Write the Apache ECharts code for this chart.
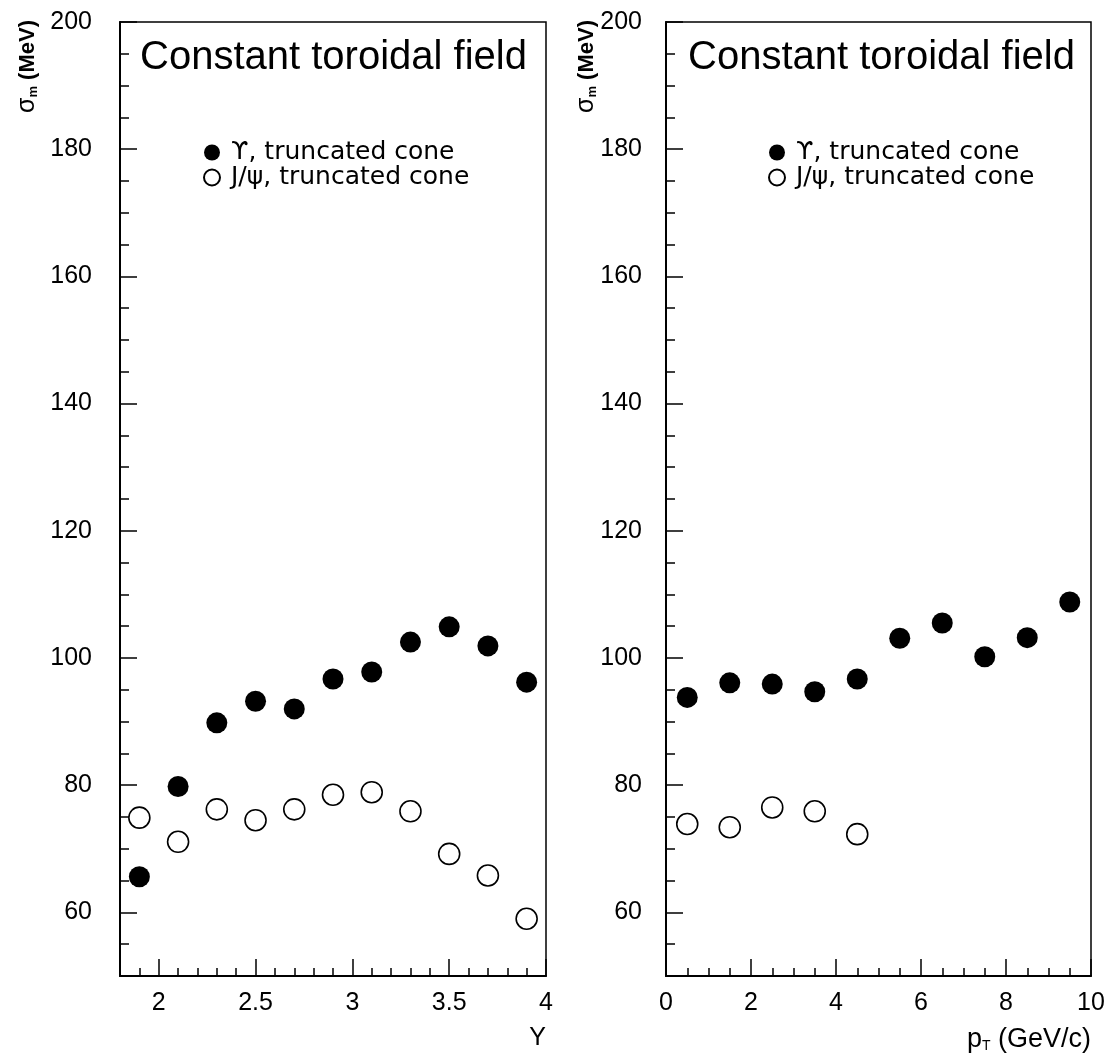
<!DOCTYPE html>
<html>
<head>
<meta charset="utf-8">
<script src="https://cdn.jsdelivr.net/npm/echarts@6/dist/echarts.min.js"></script>
<style>
html,body{margin:0;padding:0;background:#fff;}
#chart{width:1110px;height:1053px;}
</style>
</head>
<body>
<div id="chart"></div>
<script>
// ---- data ----
const rapidity = [1.9, 2.1, 2.3, 2.5, 2.7, 2.9, 3.1, 3.3, 3.5, 3.7, 3.9];
const upsilonVsY = [65.6, 79.8, 89.8, 93.2, 92.0, 96.7, 97.8, 102.5, 104.9, 101.9, 96.2];
const jpsiVsY = [74.9, 71.1, 76.2, 74.5, 76.2, 78.5, 78.9, 75.9, 69.2, 65.8, 59.0];

const ptUpsilon = [0.5, 1.5, 2.5, 3.5, 4.5, 5.5, 6.5, 7.5, 8.5, 9.5];
const upsilonVsPt = [93.8, 96.1, 95.9, 94.7, 96.7, 103.1, 105.5, 100.2, 103.2, 108.8];
const ptJpsi = [0.5, 1.5, 2.5, 3.5, 4.5];
const jpsiVsPt = [73.9, 73.4, 76.5, 75.9, 72.3];

// ---- tick labels ----
const yMajorTicks = [60, 80, 100, 120, 140, 160, 180, 200];
const yMinorTicks = [55, 65, 70, 75, 85, 90, 95, 105, 110, 115, 125, 130, 135, 145, 150, 155, 165, 170, 175, 185, 190, 195];
const rapMajorTicks = [2, 2.5, 3, 3.5, 4];
const rapMinorTicks = [1.9, 2.1, 2.2, 2.3, 2.4, 2.6, 2.7, 2.8, 2.9, 3.1, 3.2, 3.3, 3.4, 3.6, 3.7, 3.8, 3.9];
const ptMajorTicks = [0, 2, 4, 6, 8, 10];
const ptMinorTicks = [0.5, 1, 1.5, 2.5, 3, 3.5, 4.5, 5, 5.5, 6.5, 7, 7.5, 8.5, 9, 9.5];

const nameUpsilon = 'ϒ, truncated cone';
const nameJpsi = 'J/ψ, truncated cone';
const titleText = 'Constant toroidal field';

const zip = (xs, ys) => xs.map((x, i) => [x, ys[i]]);

const FONT = 'Liberation Sans';
const tickFont = {fontSize: 25, color: '#000', fontFamily: FONT};

function majorX(grid, min, max, ticks, name, nameRich, nameSize) {
  return {
    gridIndex: grid, type: 'value', min: min, max: max, position: 'bottom',
    axisLine: {show: true, onZero: false, lineStyle: {color: '#000', width: 2}},
    axisTick: {show: true, inside: true, length: 17, customValues: ticks, lineStyle: {color: '#000', width: 1.5}},
    axisLabel: Object.assign({customValues: ticks, margin: 15}, tickFont),
    splitLine: {show: false},
    name: name, nameLocation: 'end', nameGap: 0, nameMoveOverlap: false,
    nameTextStyle: {align: 'right', verticalAlign: 'top', padding: [50, 0, 0, 0], fontSize: nameSize, color: '#000', fontFamily: FONT, rich: nameRich || {}}
  };
}
function minorX(grid, min, max, ticks) {
  return {
    gridIndex: grid, type: 'value', min: min, max: max, position: 'bottom',
    axisLine: {show: false},
    axisTick: {show: true, inside: true, length: 8, customValues: ticks, lineStyle: {color: '#000', width: 1.5}},
    axisLabel: {show: false}, splitLine: {show: false}
  };
}
function majorY(grid, pad, margin) {
  return {
    gridIndex: grid, type: 'value', min: 50, max: 200, position: 'left',
    axisLine: {show: true, onZero: false, lineStyle: {color: '#000', width: 2}},
    axisTick: {show: true, inside: true, length: 17, customValues: yMajorTicks, lineStyle: {color: '#000', width: 1.5}},
    axisLabel: Object.assign({customValues: yMajorTicks, margin: margin}, tickFont),
    splitLine: {show: false},
    name: '{s|σ}{m|m} (MeV)', nameLocation: 'end', nameRotate: 90, nameGap: 2, nameMoveOverlap: false,
    nameTextStyle: {
      align: 'right', verticalAlign: 'bottom', padding: [0, 0, pad, 0],
      fontSize: 22, fontWeight: 'bold', color: '#000', fontFamily: FONT,
      rich: {
        s: {fontSize: 25, fontWeight: 'normal', color: '#000', fontFamily: FONT},
        m: {fontSize: 13, fontWeight: 'bold', color: '#000', fontFamily: FONT, verticalAlign: 'bottom'}
      }
    }
  };
}
function minorY(grid) {
  return {
    gridIndex: grid, type: 'value', min: 50, max: 200, position: 'left',
    axisLine: {show: false},
    axisTick: {show: true, inside: true, length: 9, customValues: yMinorTicks, lineStyle: {color: '#000', width: 1.5}},
    axisLabel: {show: false}, splitLine: {show: false}
  };
}

const filled = {color: '#000', opacity: 1};
const open = {color: '#fff', borderColor: '#000', borderWidth: 1.6, opacity: 1};

const ptRich = {
  t: {fontSize: 14, color: '#000', fontFamily: FONT, verticalAlign: 'bottom'}
};

const legendBase = {
  orient: 'vertical', itemGap: 0, itemWidth: 16, itemHeight: 16, icon: 'circle',
  textStyle: {fontSize: 25, color: '#000', fontFamily: 'DejaVu Sans', padding: [0, 0, 0, 6]},
  data: [nameUpsilon, nameJpsi], selectedMode: false
};

const titleStyle = {fontSize: 40, fontWeight: 'normal', color: '#000', fontFamily: FONT};

const option = {
  animation: false,
  backgroundColor: '#fff',
  title: [
    {text: titleText, left: 140, top: 38, padding: 0, textStyle: titleStyle},
    {text: titleText, left: 688, top: 38, padding: 0, textStyle: titleStyle}
  ],
  legend: [
    Object.assign({left: 198, top: 135}, legendBase),
    Object.assign({left: 763, top: 135}, legendBase)
  ],
  grid: [
    {left: 120, top: 22, width: 426, height: 954, show: true, borderColor: '#000', borderWidth: 1.5, backgroundColor: 'transparent'},
    {left: 666, top: 22, width: 425, height: 954, show: true, borderColor: '#000', borderWidth: 1.5, backgroundColor: 'transparent'}
  ],
  xAxis: [
    majorX(0, 1.8, 4, rapMajorTicks, 'Y', null, 25),
    minorX(0, 1.8, 4, rapMinorTicks),
    majorX(1, 0, 10, ptMajorTicks, 'p{t|T} (GeV/c)', ptRich, 27),
    minorX(1, 0, 10, ptMinorTicks)
  ],
  yAxis: [
    majorY(0, 80, 28),
    minorY(0),
    majorY(1, 67, 24),
    minorY(1)
  ],
  series: [
    {name: nameUpsilon, type: 'scatter', xAxisIndex: 0, yAxisIndex: 0, symbol: 'circle', symbolSize: 21, itemStyle: filled, data: zip(rapidity, upsilonVsY)},
    {name: nameJpsi, type: 'scatter', xAxisIndex: 0, yAxisIndex: 0, symbol: 'circle', symbolSize: 21, itemStyle: open, data: zip(rapidity, jpsiVsY)},
    {name: nameUpsilon, type: 'scatter', xAxisIndex: 2, yAxisIndex: 2, symbol: 'circle', symbolSize: 21, itemStyle: filled, data: zip(ptUpsilon, upsilonVsPt)},
    {name: nameJpsi, type: 'scatter', xAxisIndex: 2, yAxisIndex: 2, symbol: 'circle', symbolSize: 21, itemStyle: open, data: zip(ptJpsi, jpsiVsPt)}
  ]
};

const chart = echarts.init(document.getElementById('chart'), null, {renderer: 'canvas'});
chart.setOption(option);
</script>
</body>
</html>
